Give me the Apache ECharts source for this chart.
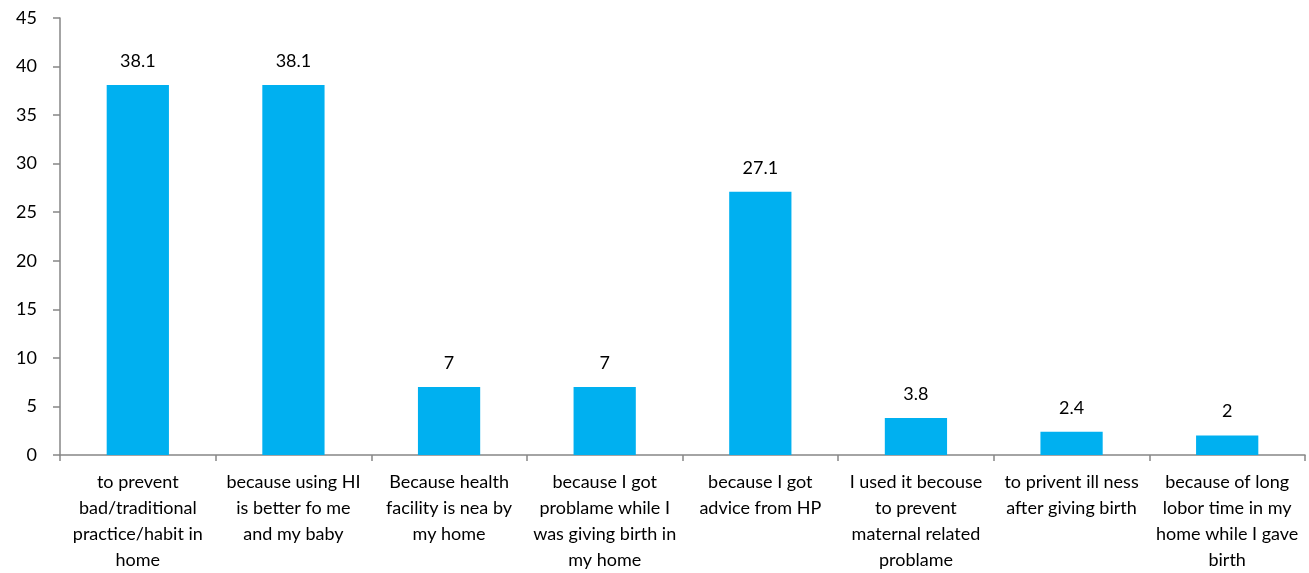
<!DOCTYPE html>
<html>
<head>
<meta charset="utf-8">
<script src="https://cdn.jsdelivr.net/npm/echarts@6/dist/echarts.min.js"></script>
<style>html,body{margin:0;padding:0;background:#fff;}#c{width:1309px;height:573px;}</style>
</head>
<body>
<div id="c"></div>
<script>
const categories = [
  "to prevent\nbad/traditional\npractice/habit in\nhome",
  "because using HI\nis better fo me\nand my baby",
  "Because health\nfacility is nea by\nmy home",
  "because I got\nproblame while I\nwas giving birth in\nmy home",
  "because I got\nadvice from HP",
  "I used it becouse\nto prevent\nmaternal related\nproblame",
  "to privent ill ness\nafter giving birth",
  "because of long\nlobor time in my\nhome while I gave\nbirth"
];
const values = [38.1, 38.1, 7, 7, 27.1, 3.8, 2.4, 2];
const yTicks = { min: 0, max: 45, interval: 5 };

const font = "Lato, 'Open Sans', sans-serif";
const chart = echarts.init(document.getElementById('c'), null, { renderer: 'canvas' });
chart.setOption({
  animation: false,
  backgroundColor: '#fff',
  grid: { left: 60, right: 4, top: 18, bottom: 115, containLabel: false },
  xAxis: {
    type: 'category',
    data: categories,
    axisLine: { lineStyle: { color: '#868686', width: 1.5 } },
    axisTick: { show: true, length: 6, lineStyle: { color: '#868686', width: 1.5 } },
    axisLabel: { interval: 0, color: '#000', fontSize: 18, fontFamily: font, lineHeight: 26, margin: 14, align: 'center' }
  },
  yAxis: {
    type: 'value',
    min: yTicks.min, max: yTicks.max, interval: yTicks.interval,
    splitLine: { show: false },
    axisLine: { show: true, lineStyle: { color: '#868686', width: 1.5 } },
    axisTick: { show: true, length: 7, lineStyle: { color: '#868686', width: 1.5 } },
    axisLabel: { color: '#000', fontSize: 18, fontFamily: font, margin: 23 }
  },
  series: [{
    type: 'bar',
    data: values,
    barWidth: '40%',
    itemStyle: { color: '#00B0F0' },
    label: { show: true, position: 'top', distance: 15, color: '#000', fontSize: 18, fontFamily: font }
  }]
});
</script>
</body>
</html>
